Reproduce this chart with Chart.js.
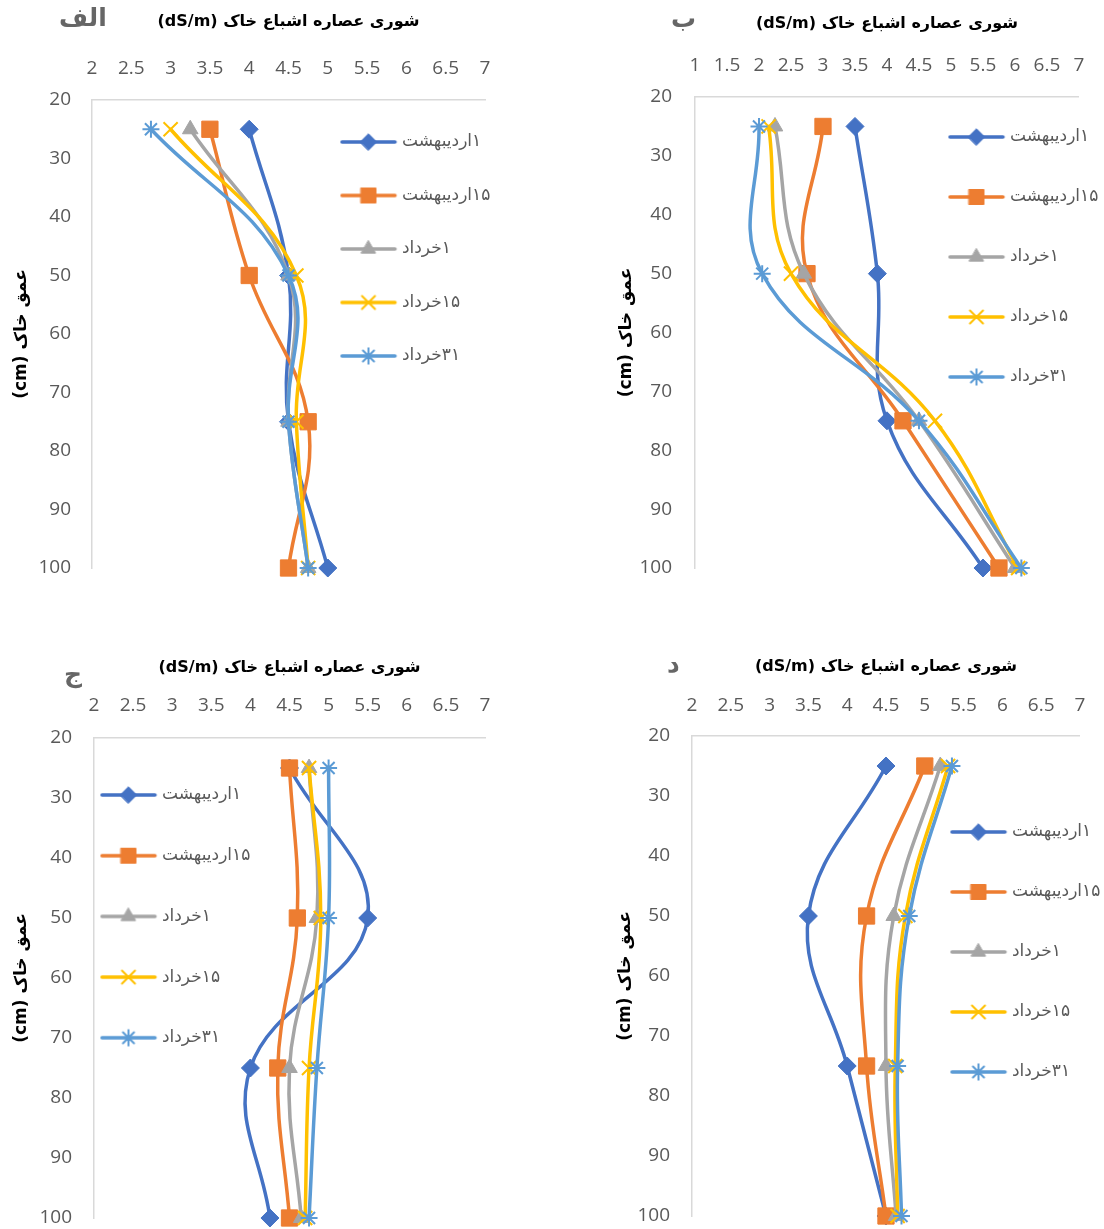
<!DOCTYPE html>
<html><head><meta charset="utf-8">
<script src="https://cdn.jsdelivr.net/npm/chart.js@4.4.1/dist/chart.umd.min.js"></script>
<style>
html,body{margin:0;padding:0;background:#fff;}
body{width:1104px;height:1229px;position:relative;overflow:hidden;}
canvas{position:absolute;direction:rtl;}
.tag{position:absolute;font-family:'DejaVu Sans',sans-serif;font-weight:bold;color:#666;font-size:25px;direction:rtl;white-space:nowrap;line-height:1;}
</style></head><body>
<canvas id="cA" width="552" height="614" style="left:0;top:0"></canvas>
<canvas id="cB" width="552" height="614" style="left:552px;top:0"></canvas>
<canvas id="cC" width="552" height="660" style="left:0;top:614px"></canvas>
<canvas id="cD" width="552" height="660" style="left:552px;top:614px"></canvas>
<div class="tag" id="tA" style="left:59px;top:5px"></div>
<div class="tag" id="tB" style="left:671px;top:6px"></div>
<div class="tag" id="tC" style="left:64px;top:661px"></div>
<div class="tag" id="tD" style="left:667px;top:651px"></div>
<script>
// ---------- data ----------
const depth = [25, 50, 75, 100];
const seriesLabels = ['۱اردیبهشت', '۱۵اردیبهشت', '۱خرداد', '۱۵خرداد', '۳۱خرداد'];

const a1 = [4.0, 4.5, 4.5, 5.0];
const a2 = [3.5, 4.0, 4.75, 4.5];
const a3 = [3.25, 4.5, 4.5, 4.75];
const a4 = [3.0, 4.6, 4.6, 4.75];
const a5 = [2.75, 4.5, 4.5, 4.75];

const b1 = [3.5, 3.85, 4.0, 5.5];
const b2 = [3.0, 2.75, 4.25, 5.75];
const b3 = [2.25, 2.7, 4.5, 6.0];
const b4 = [2.15, 2.5, 4.75, 6.05];
const b5 = [2.0, 2.05, 4.5, 6.1];

const c1 = [4.5, 5.5, 4.0, 4.25];
const c2 = [4.5, 4.6, 4.35, 4.5];
const c3 = [4.75, 4.85, 4.5, 4.65];
const c4 = [4.75, 4.9, 4.75, 4.7];
const c5 = [5.0, 5.0, 4.85, 4.75];

const d1 = [4.5, 3.5, 4.0, 4.5];
const d2 = [5.0, 4.25, 4.25, 4.5];
const d3 = [5.2, 4.6, 4.5, 4.63];
const d4 = [5.3, 4.75, 4.62, 4.65];
const d5 = [5.35, 4.8, 4.65, 4.7];

const xTicksWide = [1, 1.5, 2, 2.5, 3, 3.5, 4, 4.5, 5, 5.5, 6, 6.5, 7];
const xTicksStd = [2, 2.5, 3, 3.5, 4, 4.5, 5, 5.5, 6, 6.5, 7];
const yTicks = [20, 30, 40, 50, 60, 70, 80, 90, 100];

const panelTags = ['الف', 'ب', 'ج', 'د'];
const xTitle = 'شوری عصاره اشباع خاک (dS/m)';
const yTitle = 'عمق خاک (cm)';

// ---------- styling ----------
const colors = ['#4472C4', '#ED7D31', '#A5A5A5', '#FFC000', '#5B9BD5'];
const styles = ['rectRot', 'rect', 'triangle', 'crossRot', 'star'];
const radii = [9, 11.5, 9, 10, 8.5];
const borderW = [1, 1, 1, 2, 2];
const LEG_FONT = 17;
const TITLE_FONT = 16;

function legendImage(i) {
  const c = document.createElement('canvas');
  c.width = 58; c.height = 24;
  const g = c.getContext('2d');
  g.strokeStyle = colors[i]; g.fillStyle = colors[i];
  g.lineCap = 'round'; g.lineWidth = 3.5;
  g.beginPath(); g.moveTo(2.5, 12); g.lineTo(55.5, 12); g.stroke();
  g.lineWidth = borderW[i];
  Chart.helpers.drawPoint(g, {pointStyle: styles[i], radius: radii[i] * 0.92, borderWidth: borderW[i], rotation: 0}, 29, 12);
  return c;
}
const legendImgs = colors.map((_, i) => legendImage(i));

const legendPlacer = {
  id: 'legendPlacer',
  afterLayout(chart, args, opts) {
    const lg = chart.legend;
    if (!lg) return;
    const pad = opts.gap - LEG_FONT;
    lg.left = opts.x + 3.5 - pad;
    lg.top = opts.y - pad - LEG_FONT / 2;
    lg.right = lg.left + 320;
    lg.bottom = lg.top + opts.gap * 6 + 40;
  }
};

function makeChart(id, series, xTicks, L) {
  const datasets = series.map((vals, i) => ({
    label: seriesLabels[i],
    data: vals.map((v, k) => ({x: v, y: depth[k]})),
    showLine: true,
    borderColor: colors[i],
    backgroundColor: colors[i],
    borderWidth: 3.5,
    borderCapStyle: 'round',
    borderJoinStyle: 'round',
    tension: 0.4,
    pointStyle: styles[i],
    pointRadius: radii[i],
    pointBorderWidth: borderW[i],
    pointBorderColor: colors[i],
    pointBackgroundColor: colors[i],
    order: series.length - i,
    clip: false
  }));
  const cw = L.cw, ch = L.ch;
  return new Chart(document.getElementById(id), {
    type: 'scatter',
    data: {datasets},
    plugins: [legendPlacer],
    options: {
      responsive: false,
      animation: false,
      events: [],
      layout: {autoPadding: false, padding: {left: 0, top: 0, right: cw - L.r, bottom: ch - L.b}},
      scales: {
        x: {
          type: 'linear', position: 'top',
          min: xTicks[0], max: xTicks[xTicks.length - 1],
          afterBuildTicks: s => { s.ticks = xTicks.map(v => ({value: v})); },
          afterFit: s => { s.height = L.t; },
          grid: {display: false, drawTicks: false},
          border: {display: true, color: '#d9d9d9', width: 1.5},
          ticks: {color: '#595959', font: {family: 'Open Sans', size: 19}, padding: L.t - L.tickY - 11.4, maxRotation: 0, autoSkip: false,
                  callback: v => String(v)},
          title: {display: true, text: xTitle, color: '#000', font: {family: 'DejaVu Sans', size: TITLE_FONT, weight: 'bold'}, padding: {top: L.titleY - TITLE_FONT * 0.6, bottom: 0}}
        },
        y: {
          type: 'linear', position: 'left', reverse: true,
          min: yTicks[0], max: yTicks[yTicks.length - 1],
          afterBuildTicks: s => { s.ticks = yTicks.map(v => ({value: v})); },
          afterFit: s => { s.width = L.l; },
          grid: {display: false, drawTicks: false},
          border: {display: true, color: '#d9d9d9', width: 1.5},
          ticks: {color: '#595959', font: {family: 'Open Sans', size: 19}, padding: L.l - L.yTickR, autoSkip: false,
                  callback: v => String(v)},
          title: {display: true, text: yTitle, color: '#000', font: {family: 'DejaVu Sans', size: 17, weight: 'bold'}, padding: {top: L.yTitleX - 10.2, bottom: 0}}
        }
      },
      plugins: {
        tooltip: {enabled: false},
        title: {display: false},
        legendPlacer: {x: L.legX, y: L.legY, gap: L.legGap},
        legend: {
          display: true,
          position: 'chartArea',
          align: 'start',
          textDirection: 'rtl',
          labels: {
            usePointStyle: true,
            pointStyleWidth: 50,
            padding: L.legGap - LEG_FONT,
            color: '#595959',
            font: {family: 'DejaVu Sans', size: LEG_FONT},
            generateLabels: chart => chart.data.datasets.map((ds, i) => ({
              text: ds.label, fillStyle: colors[i], strokeStyle: colors[i], lineWidth: 0,
              pointStyle: legendImgs[i], hidden: false, datasetIndex: i, fontColor: '#595959'
            }))
          }
        }
      }
    }
  });
}

makeChart('cA', [a1, a2, a3, a4, a5], xTicksStd,
  {cw: 552, ch: 614, l: 92, t: 100, r: 485, b: 568, titleY: 22, tickY: 69, yTitleX: 22, yTickR: 71, legX: 340, legY: 142, legGap: 53.5});
makeChart('cB', [b1, b2, b3, b4, b5], xTicksWide,
  {cw: 552, ch: 614, l: 143, t: 97, r: 538, b: 568, titleY: 24, tickY: 66, yTitleX: 75, yTickR: 120, legX: 396, legY: 137, legGap: 60});
makeChart('cC', [c1, c2, c3, c4, c5], xTicksStd,
  {cw: 552, ch: 660, l: 94, t: 124, r: 485, b: 604, titleY: 54, tickY: 92, yTitleX: 22, yTickR: 72, legX: 100, legY: 181, legGap: 60.7});
makeChart('cD', [d1, d2, d3, d4, d5], xTicksStd,
  {cw: 552, ch: 660, l: 140, t: 122, r: 538, b: 602, titleY: 53, tickY: 92, yTitleX: 74, yTickR: 118, legX: 398, legY: 218, legGap: 60});

['tA', 'tB', 'tC', 'tD'].forEach((id, i) => { document.getElementById(id).textContent = panelTags[i]; });
</script>
</body></html>
